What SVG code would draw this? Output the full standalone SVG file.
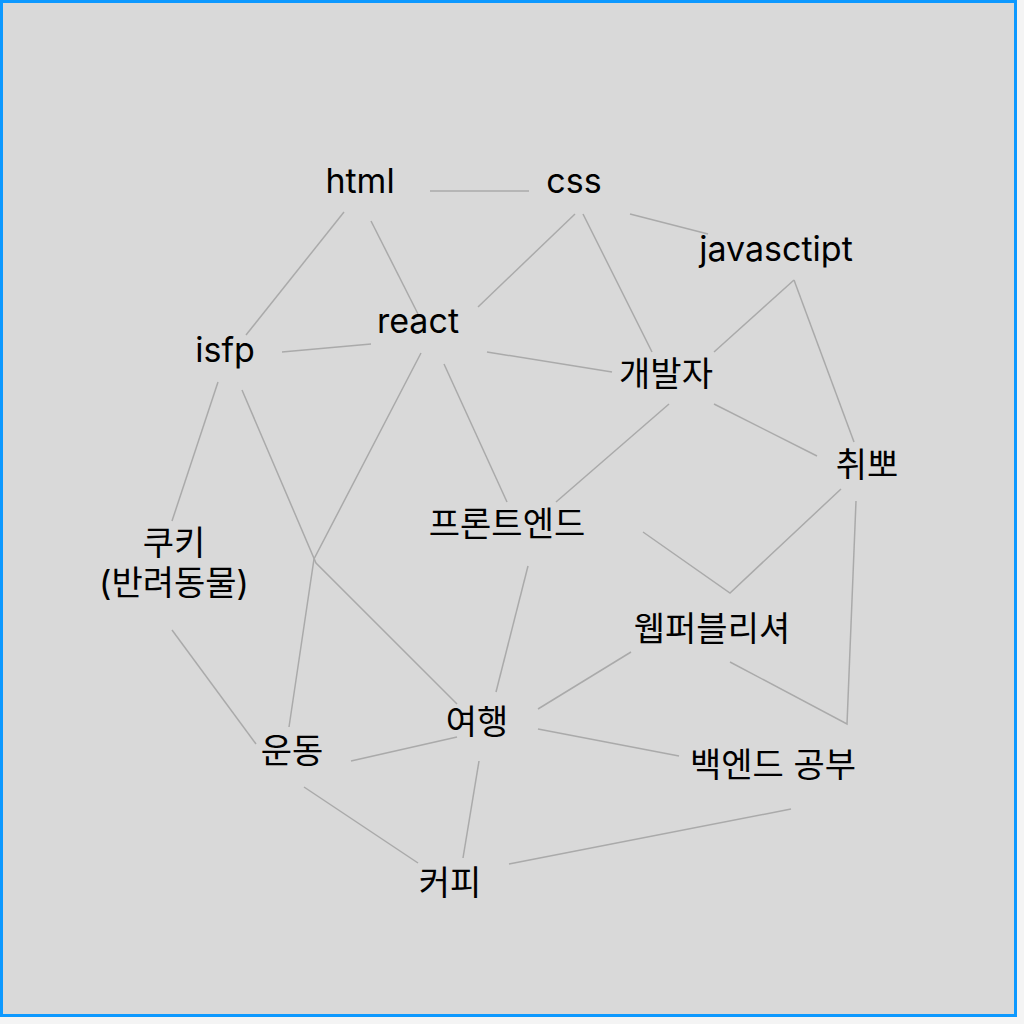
<svg xmlns="http://www.w3.org/2000/svg" width="1024" height="1024" viewBox="0 0 1024 1024">
<style>
.bg{fill:#d9d9d9;stroke:#0d99ff;stroke-width:3}
.e{fill:none;stroke:#aaaaaa;stroke-width:1.5}
.t{font-family:Inter,"Noto Sans","Noto Sans CJK KR",sans-serif;font-size:34px;fill:#000;text-anchor:middle}
</style>
<rect x="0" y="0" width="1024" height="1024" fill="#f4f4f4"/>
<rect class="bg" x="1.5" y="1.5" width="1014" height="1014"/>
<g id="connectors">
<line class="e" x1="430" y1="191" x2="529" y2="191"/>
<line class="e" x1="344" y1="212" x2="246" y2="335"/>
<line class="e" x1="371" y1="221" x2="418" y2="314"/>
<line class="e" x1="282" y1="352" x2="371" y2="344"/>
<line class="e" x1="478" y1="307" x2="575" y2="214"/>
<line class="e" x1="487" y1="352" x2="612" y2="372"/>
<line class="e" x1="583" y1="214" x2="652" y2="352"/>
<line class="e" x1="630" y1="214" x2="708" y2="234"/>
<line class="e" x1="794" y1="280" x2="714" y2="352"/>
<line class="e" x1="794" y1="280" x2="854" y2="442"/>
<line class="e" x1="669" y1="404" x2="556" y2="502"/>
<line class="e" x1="714" y1="404" x2="817" y2="456"/>
<line class="e" x1="444" y1="364" x2="507" y2="502"/>
<polyline class="e" points="421,353 314,559 289,727"/>
<polyline class="e" points="242,390 316,563 457,704"/>
<line class="e" x1="218" y1="382" x2="172" y2="521"/>
<line class="e" x1="172" y1="630" x2="256" y2="744"/>
<line class="e" x1="351" y1="761" x2="457" y2="737"/>
<line class="e" x1="528" y1="566" x2="496" y2="692"/>
<polyline class="e" points="643,532 730,593 841,489"/>
<polyline class="e" points="856,501 847,724 730,662"/>
<line class="e" x1="631" y1="652" x2="538" y2="709"/>
<line class="e" x1="538" y1="729" x2="679" y2="756"/>
<line class="e" x1="479" y1="761" x2="463" y2="858"/>
<line class="e" x1="304" y1="787" x2="418" y2="863"/>
<line class="e" x1="509" y1="864" x2="791" y2="809"/>
</g>
<g id="n-html"><text class="t" x="360" y="193">html</text></g>
<g id="n-css"><text class="t" x="574" y="193">css</text></g>
<g id="n-javasctipt"><text class="t" x="776" y="261">javasctipt</text></g>
<g id="n-react"><text class="t" x="418" y="333">react</text></g>
<g id="n-isfp"><text class="t" x="225" y="362">isfp</text></g>
<g id="n-dev"><text class="t" x="666" y="386">개발자</text></g>
<g id="n-job"><text class="t" x="867" y="477">취뽀</text></g>
<g id="n-front"><text class="t" x="507" y="536">프론트엔드</text></g>
<g id="n-cookie"><text class="t" x="174" y="555">쿠키</text><text class="t" x="174" y="595">(반려동물)</text></g>
<g id="n-pub"><text class="t" x="712" y="641">웹퍼블리셔</text></g>
<g id="n-travel"><text class="t" x="477" y="734">여행</text></g>
<g id="n-exercise"><text class="t" x="292" y="763">운동</text></g>
<g id="n-backend"><text class="t" x="773" y="777">백엔드 공부</text></g>
<g id="n-coffee"><text class="t" x="450" y="895">커피</text></g>
</svg>
